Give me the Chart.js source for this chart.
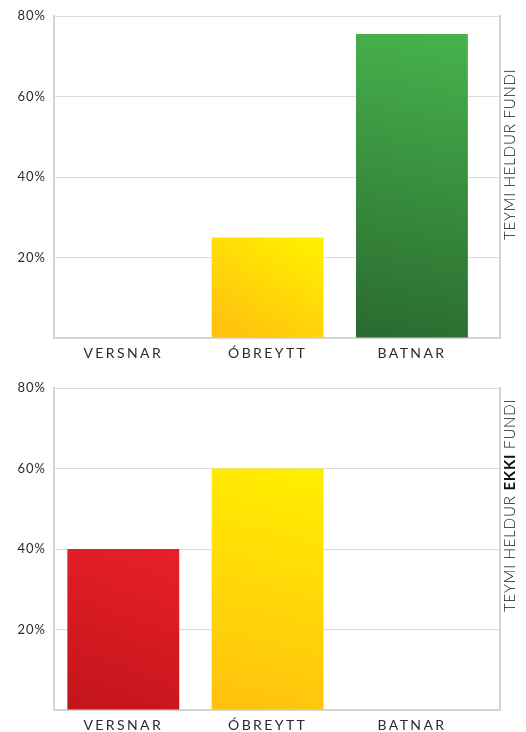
<!DOCTYPE html>
<html>
<head>
<meta charset="utf-8">
<script src="https://cdn.jsdelivr.net/npm/chart.js@4"></script>
<style>
  html, body { margin: 0; padding: 0; background: #fff; overflow: hidden; }
  .panel { position: relative; width: 526px; height: 366px; }
</style>
</head>
<body>
<div class="panel"><canvas id="chartFundi"></canvas></div>
<div class="panel"><canvas id="chartEkkiFundi"></canvas></div>

<script>
// ── Data ─────────────────────────────────────────
const categories = ['VERSNAR', 'ÓBREYTT', 'BATNAR'];
const heldurFundi = [0, 25, 75.5];
const heldurEkkiFundi = [40, 60, 0];
const yTicks = [0, 20, 40, 60, 80];

// ── Styles ───────────────────────────────────────
const barColors = [
    ['#e71f26', '#c4151c'],   // versnar: red
    ['#ffee00', '#ffc20f'],   // óbreytt: yellow
    ['#47b14c', '#2a6b30']    // batnar: green
];
const TEXT = '#2b2b2b';
const GRID = '#dcdcdc';
const FRAME = '#d2d4d5';

// gradient per bar, light at top right, dark at bottom left
function barFill(c) {
    const chart = c.chart;
    const pair = barColors[c.dataIndex];
    if (c.type !== 'data' || !chart.chartArea) return pair[0];
    const { x, y } = chart.scales;
    const cx = x.getPixelForValue(c.dataIndex);
    const top = y.getPixelForValue(c.raw.y);
    const base = y.getPixelForValue(0);
    const g = chart.ctx.createLinearGradient(cx - 30, base, cx + 30, top);
    g.addColorStop(0, pair[1]);
    g.addColorStop(1, pair[0]);
    return g;
}

// letter spacing: y ticks before datasets, x ticks (z:1) after
const spacingPlugin = {
    id: 'spacing',
    beforeDraw(chart) { chart.ctx.letterSpacing = '1px'; },
    afterDatasetsDraw(chart) { chart.ctx.letterSpacing = '2.4px'; }
};

// rotated right-hand title with mixed weights
const sideTitle = {
    id: 'sideTitle',
    afterDraw(chart, args, opts) {
        const { ctx, chartArea } = chart;
        ctx.save();
        ctx.translate(chartArea.right + 10, chartArea.bottom - 98);
        ctx.rotate(-Math.PI / 2);
        ctx.textAlign = 'left';
        ctx.textBaseline = 'middle';
        ctx.fillStyle = '#111';
        ctx.letterSpacing = '0.8px';
        let pos = 0;
        opts.parts.forEach(p => {
            ctx.font = (p.bold ? 'bold 15px Lato' : '300 15px Lato');
            ctx.fillText(p.text, pos, 0);
            pos += ctx.measureText(p.text).width;
        });
        ctx.restore();
    }
};

function makeChart(id, values, parts, padTop, xHeight) {
    return new Chart(document.getElementById(id), {
        type: 'bar',
        data: {
            datasets: [{
                data: values.map((v, i) => ({ x: i, y: v })),
                backgroundColor: barFill,
                borderWidth: 0,
                categoryPercentage: 1,
                barPercentage: 0.775
            }]
        },
        options: {
            responsive: true,
            maintainAspectRatio: false,
            animation: false,
            layout: { padding: { top: padTop, left: 0, right: 0, bottom: 0 } },
            plugins: {
                legend: { display: false },
                tooltip: { enabled: false },
                sideTitle: { parts: parts }
            },
            scales: {
                x: {
                    type: 'linear',
                    offset: false,
                    bounds: 'data',
                    min: -0.48,
                    max: 2.61,
                    afterBuildTicks: s => { s.ticks = categories.map((_, i) => ({ value: i })); },
                    afterFit: s => { s.height = xHeight; },
                    grid: { display: false, drawTicks: false, offset: false },
                    border: { display: true, color: FRAME, width: 2 },
                    ticks: {
                        z: 1,
                        padding: 7,
                        maxRotation: 0,
                        autoSkip: false,
                        color: TEXT,
                        font: { family: 'Lato', size: 14 },
                        callback: v => categories[v]
                    }
                },
                y: {
                    min: yTicks[0],
                    max: yTicks[yTicks.length - 1],
                    afterBuildTicks: s => { s.ticks = yTicks.map(v => ({ value: v })); },
                    afterFit: s => { s.width = 54; },
                    grid: { color: GRID, lineWidth: 1, drawTicks: false },
                    border: { display: true, color: FRAME, width: 2 },
                    ticks: {
                        padding: 8,
                        color: TEXT,
                        font: { family: 'Lato', size: 13 },
                        callback: v => (v === 0 ? '' : v + '%')
                    }
                },
                y2: {
                    position: 'right',
                    min: 0,
                    max: 80,
                    afterFit: s => { s.width = 26; },
                    grid: { drawOnChartArea: false, drawTicks: false },
                    border: { display: true, color: FRAME, width: 2 },
                    ticks: { display: false }
                }
            }
        },
        plugins: [spacingPlugin, sideTitle]
    });
}

makeChart('chartFundi', heldurFundi,
    [{ text: 'TEYMI HELDUR FUNDI' }], 16, 28);
makeChart('chartEkkiFundi', heldurEkkiFundi,
    [{ text: 'TEYMI HELDUR ' }, { text: 'EKKI', bold: true }, { text: ' FUNDI' }], 22, 22);
</script>
</body>
</html>
